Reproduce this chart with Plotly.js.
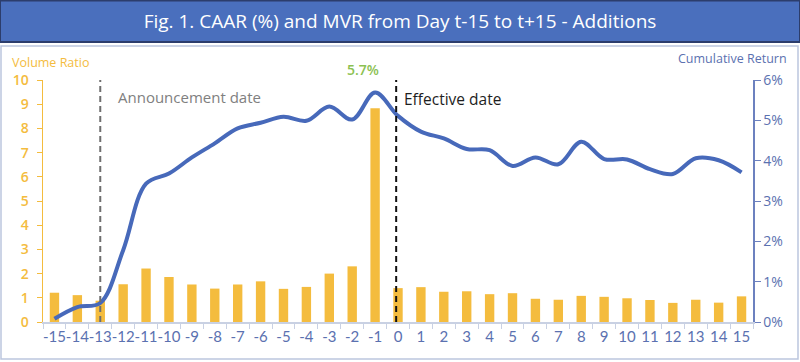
<!DOCTYPE html>
<html>
<head>
<meta charset="utf-8">
<script src="https://cdn.plot.ly/plotly-3.0.1.min.js"></script>
<style>html,body{margin:0;padding:0;background:#fff;}#chart{width:800px;height:362px;}</style>
</head>
<body>
<div id="chart"></div>
<script>
var days = ["-15","-14","-13","-12","-11","-10","-9","-8","-7","-6","-5","-4","-3","-2","-1","0","1","2","3","4","5","6","7","8","9","10","11","12","13","14","15"];
var volumeRatio = [1.21,1.11,0.88,1.56,2.21,1.86,1.55,1.38,1.55,1.68,1.37,1.45,2.0,2.3,8.83,1.40,1.44,1.25,1.27,1.15,1.19,0.96,0.92,1.08,1.04,0.98,0.91,0.79,0.92,0.80,1.06];
var cumReturn = [0.08,0.37,0.47,1.78,3.43,3.68,4.08,4.43,4.80,4.94,5.09,4.99,5.34,5.02,5.69,5.11,4.72,4.55,4.29,4.26,3.87,4.08,3.91,4.47,4.04,4.03,3.79,3.67,4.06,4.01,3.71];
var leftTicks = [0,1,2,3,4,5,6,7,8,9,10];
var rightTicks = [0,1,2,3,4,5,6];
var rightTickText = ["0%","1%","2%","3%","4%","5%","6%"];
var announcementDay = "-13";
var effectiveDay = "0";
var peakDay = "-1";
var peakLabel = "5.7%";

var W = 800, H = 362, ml = 43, mr = 47, mt = 80, mb = 40;
var pw = W - ml - mr, ph = H - mt - mb;
function px(x){ return (x - ml) / pw; }
function py(y){ return (H - mb - y) / ph; }

var FONT = "Open Sans, Lato, sans-serif";
var gold = "#f4bc3e";
var blue = "#4769ba";
var blueText = "#5b71b0";

var traces = [
  {type:"bar", x:days, y:volumeRatio, marker:{color:gold}, width:0.41, yaxis:"y", hoverinfo:"skip"},
  {type:"scatter", mode:"lines", x:days, y:cumReturn, yaxis:"y2", line:{color:blue, width:4, shape:"spline", smoothing:1}, hoverinfo:"skip"}
];

var aIdx = days.indexOf(announcementDay), eIdx = days.indexOf(effectiveDay), pIdx = days.indexOf(peakDay);

var layout = {
  width:W, height:H,
  margin:{l:ml, r:mr, t:mt, b:mb, pad:0},
  paper_bgcolor:"#ffffff", plot_bgcolor:"rgba(0,0,0,0)",
  showlegend:false,
  bargap:0.59,
  title:{text:"Fig. 1. CAAR (%) and MVR from Day t-15 to t+15 - Additions", font:{family:FONT, size:19, color:"#ffffff", weight:500}, x:0.5, xref:"container", xanchor:"center", y:1-21/H, yref:"container", yanchor:"middle"},
  xaxis:{type:"category", tickson:"boundaries", tickangle:0, ticks:"outside", ticklen:5, tickcolor:"#c9d1e3", showline:true, linecolor:"#c9d1e3", linewidth:1.5, showgrid:false, zeroline:false, tickfont:{family:"Lato, sans-serif", size:15, color:blueText}, fixedrange:true},
  yaxis:{range:[0,10], tickvals:leftTicks, ticks:"outside", ticklen:5, tickcolor:gold, ticklabelstandoff:5, showline:true, linecolor:gold, linewidth:1.5, showgrid:false, zeroline:false, tickfont:{family:FONT, size:14, color:gold, weight:600}, fixedrange:true},
  yaxis2:{range:[0,6], overlaying:"y", side:"right", tickvals:rightTicks, ticktext:rightTickText, ticks:"outside", ticklen:6, tickcolor:"#6c81bf", showline:true, linecolor:"#6c81bf", linewidth:1.5, showgrid:false, zeroline:false, tickfont:{family:FONT, size:14, color:blueText}, fixedrange:true},
  shapes:[
    {type:"rect", xref:"paper", yref:"paper", x0:px(1), x1:px(798), y0:py(359), y1:py(46), line:{color:"#bcc6de", width:1.5}, fillcolor:"rgba(0,0,0,0)", layer:"below"},
    {type:"rect", xref:"paper", yref:"paper", x0:px(0), x1:px(800), y0:py(42), y1:py(0.5), line:{color:"#2c3d6c", width:2}, fillcolor:"#4a6fbd", layer:"below"},
    {type:"line", xref:"x", yref:"paper", x0:aIdx, x1:aIdx, y0:0, y1:1, line:{color:"#6e6e6e", width:2, dash:"6px,4px"}},
    {type:"line", xref:"x", yref:"paper", x0:eIdx-0.08, x1:eIdx-0.08, y0:0, y1:1, line:{color:"#111111", width:2, dash:"6px,4px"}}
  ],
  annotations:[
    {xref:"paper", yref:"paper", x:px(50), y:py(62), text:"Volume Ratio", showarrow:false, xanchor:"center", yanchor:"middle", font:{family:FONT, size:12.5, color:gold}},
    {xref:"paper", yref:"paper", x:px(732), y:py(58), text:"Cumulative Return", showarrow:false, xanchor:"center", yanchor:"middle", font:{family:FONT, size:12.5, color:blueText}},
    {xref:"paper", yref:"paper", x:px(116), y:py(97), text:"Announcement date", showarrow:false, xanchor:"left", yanchor:"middle", font:{family:FONT, size:15, color:"#808080"}},
    {xref:"paper", yref:"paper", x:px(402), y:py(99), text:"Effective date", showarrow:false, xanchor:"left", yanchor:"middle", font:{family:FONT, size:15.5, color:"#1e1e1e", weight:500}},
    {xref:"x", yref:"y2", x:pIdx, y:cumReturn[pIdx], xshift:-12, yshift:12, text:peakLabel, showarrow:false, xanchor:"center", yanchor:"bottom", font:{family:FONT, size:14, color:"#8cc152", weight:600}}
  ]
};

Plotly.newPlot("chart", traces, layout, {displayModeBar:false, staticPlot:true});
</script>
</body>
</html>
